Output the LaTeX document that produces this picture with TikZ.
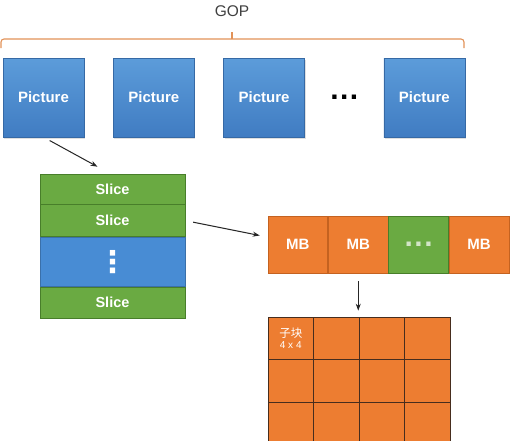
\documentclass[tikz,border=0pt]{standalone}
\usepackage{fontspec}
\setmainfont{Liberation Sans}
\newfontfamily\cjkfont{Noto Sans CJK SC}
\newfontfamily\symfont{DejaVu Sans}
\usepackage{tikz}
\usetikzlibrary{positioning, arrows.meta, calc, shadows}
\definecolor{picblue}{RGB}{92,156,218}
\definecolor{picbluedark}{RGB}{64,124,194}
\definecolor{midblue}{RGB}{72,140,212}
\definecolor{slicegreen}{RGB}{106,170,66}
\definecolor{sliceedge}{RGB}{72,126,42}
\definecolor{mborange}{RGB}{237,125,49}
\definecolor{mbedge}{RGB}{196,98,32}
\definecolor{gridline}{RGB}{70,45,30}
\definecolor{gopbrace}{RGB}{226,146,88}
\tikzset{
  picbox/.style={
    rectangle, minimum width=81pt, minimum height=79pt, inner sep=0pt,
    top color=picblue, bottom color=picbluedark, draw=picbluedark!85!black, line width=0.3pt,
    text=white, font=\fontsize{15}{18}\selectfont\bfseries,
    drop shadow={shadow xshift=1pt, shadow yshift=-1.5pt, opacity=0.25}
  },
  slicebox/.style={
    rectangle, minimum width=145pt, inner sep=0pt, fill=slicegreen, draw=sliceedge,
    line width=0.6pt, text=white, font=\fontsize{14.5}{17}\selectfont\bfseries
  },
  mbbox/.style={
    rectangle, minimum width=59.75pt, minimum height=57pt, inner sep=0pt, fill=mborange,
    draw=mbedge, line width=0.6pt, text=white, font=\fontsize{15}{18}\selectfont\bfseries
  },
  cell/.style={
    rectangle, minimum width=45.5pt, minimum height=42.5pt, inner sep=0pt,
    fill=mborange, draw=gridline, line width=0.7pt
  },
  dots/.style={font=\fontsize{30}{30}\selectfont\bfseries, inner sep=0pt},
  arrow/.style={-{Stealth[length=7pt,width=5pt]}, line width=1pt, black!85},
}
\begin{document}
\begin{tikzpicture}[x=1pt, y=-1pt]
  \fill[white] (0,0) rectangle (511,440);
  \useasboundingbox (0,0) rectangle (511,440);

  % GOP and its brace
  \node[font=\fontsize{15.5}{18}\selectfont, text=black!75] (gop) at (232,11) {GOP};
  \draw[gopbrace, line width=1.1pt, rounded corners=3pt]
    (1,48) -- (1,39) -- (464,39) -- (464,48);
  \draw[gopbrace, line width=1.1pt] (232,39) -- (232,32);

  % pictures
  \node[picbox] (pic1) at (43.5,97.5) {Picture};
  \node[picbox, right=29pt of pic1] (pic2) {Picture};
  \node[picbox, right=29pt of pic2] (pic3) {Picture};
  \node[picbox, right=79pt of pic3] (pic4) {Picture};
  \node[dots] (picdots) at ($(pic3.east)!0.5!(pic4.west)$) {.\hspace{1.5pt}.\hspace{1.5pt}.};

  % slices
  \node[slicebox, minimum height=30pt] (slice1) at (112.5,189) {Slice};
  \node[slicebox, minimum height=32pt, below=0pt of slice1] (slice2) {Slice};
  \node[slicebox, minimum height=49pt, fill=midblue, draw=midblue!80!black, below=0pt of slice2,
        font=\symfont\fontsize{30}{30}\selectfont\bfseries] (slicedots) {⋮};
  \node[slicebox, minimum height=31pt, below=0pt of slicedots] (slice3) {Slice};

  % macroblocks
  \node[mbbox] (mb1) at (297.9,244.5) {MB};
  \node[mbbox, right=0pt of mb1] (mb2) {MB};
  \node[mbbox, right=0pt of mb2, fill=slicegreen, draw=sliceedge, text=white!70!slicegreen,
        font=\fontsize{30}{30}\selectfont\bfseries] (mbdots) {.\hspace{1.5pt}.\hspace{1.5pt}.};
  \node[mbbox, right=0pt of mbdots] (mb3) {MB};

  % sub-blocks
  \foreach \i in {0,...,3}
    \foreach \j in {0,...,2}
      \node[cell] (cell-\i-\j) at (290.75+45.5*\i, 338.25+42.5*\j) {};
  \node[text=white, align=center, inner sep=0pt] at (cell-0-0)
    {{\cjkfont\fontsize{11.5}{13}\selectfont 子块}\\[-1pt]{\fontsize{10}{12}\selectfont 4 x 4}};

  % connectors
  \coordinate (slicein) at ($(slice1.north)+(-15,-7)$);
  \coordinate (mbin) at ($(mb1.west)+(-8,-9)$);
  \draw[arrow, shorten <=7pt] (pic1.south) -- (slicein);
  \draw[arrow, shorten <=8pt] (slice2.east) -- (mbin);
  \draw[arrow, shorten <=8pt, shorten >=6pt] (mb2.south) -- (mb2.south |- cell-1-0.north);
\end{tikzpicture}
\end{document}
